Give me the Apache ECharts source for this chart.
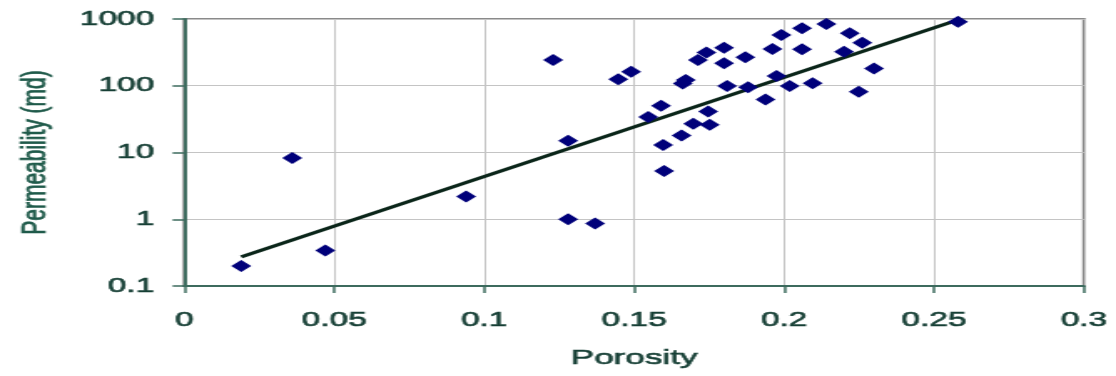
<!DOCTYPE html>
<html>
<head>
<meta charset="utf-8">
<title>Permeability vs Porosity</title>
<script src="https://cdn.jsdelivr.net/npm/echarts@6/dist/echarts.min.js"></script>
<style>
  html, body { margin: 0; padding: 0; background: #fff; overflow: hidden; }
  #wrap { width: 1116px; height: 376px; overflow: hidden; }
  /* the chart is laid out narrow and widened horizontally */
  #chart { width: 668px; height: 376px; transform: scaleX(1.6707); transform-origin: 0 0; }
</style>
</head>
<body>
<div id="wrap"><div id="chart"></div></div>
<script>
// Core samples: porosity (fraction) and permeability (md)
const porosity = [
  0.019, 0.036, 0.047, 0.094, 0.128, 0.137, 0.123, 0.128, 0.1447, 0.149,
  0.1547, 0.159, 0.1597, 0.160, 0.1662, 0.1672, 0.1658, 0.1697, 0.1747, 0.1752,
  0.1938, 0.1713, 0.1741, 0.180, 0.180, 0.1871, 0.181, 0.188, 0.1961, 0.1991,
  0.206, 0.206, 0.1975, 0.2019, 0.2095, 0.2141, 0.2219, 0.2261, 0.220, 0.230,
  0.2249, 0.258
];
const permeability = [
  0.20, 8.3, 0.34, 2.2, 1.0, 0.86, 243, 15, 125, 162,
  34, 50, 13, 5.3, 108, 122, 18, 27, 41, 26,
  62, 243, 316, 372, 217, 267, 99, 95, 355, 575,
  725, 351, 140, 99, 109, 841, 610, 442, 324, 182,
  81, 911
];

// Exponential trend line, end points over the porosity range
const trendPorosity = [0.019, 0.258];
const trendPermeability = [0.273, 972];

// Axis tick labels
const xTickLabels = ['0', '0.05', '0.1', '0.15', '0.2', '0.25', '0.3'];
const yTickLabels = ['0.1', '1', '10', '100', '1000'];

const points = porosity.map((p, i) => [p, permeability[i]]);
const trend = trendPorosity.map((p, i) => [p, trendPermeability[i]]);

const font = '"Liberation Sans", Arial, sans-serif';
const textColor = '#163f35';
const axisColor = '#3d6b5e';

// slightly heavier strokes for all chart text
const textWeight = (color) => ({ color: color, textBorderColor: color, textBorderWidth: 0.6 });

const chart = echarts.init(document.getElementById('chart'), null, { renderer: 'canvas' });
chart.setOption({
  animation: false,
  backgroundColor: '#ffffff',
  grid: {
    left: 110.3, right: 19.2, top: 19, bottom: 90,
    show: true, borderColor: '#8a8a8a', borderWidth: 2, backgroundColor: '#ffffff'
  },
  xAxis: {
    type: 'value', min: 0, max: 0.3, interval: 0.05,
    name: 'Porosity', nameLocation: 'middle', nameGap: 62,
    nameTextStyle: Object.assign({ fontFamily: font, fontSize: 21 }, textWeight(textColor)),
    axisLine: { show: true, onZero: false, lineStyle: { color: axisColor, width: 2 } },
    axisTick: { show: true, length: 7, lineStyle: { color: axisColor, width: 1.5 } },
    axisLabel: Object.assign({
      margin: 24, fontFamily: font, fontSize: 20,
      formatter: v => xTickLabels[Math.round(v / 0.05)]
    }, textWeight(textColor)),
    splitLine: { show: true, lineStyle: { color: '#c4c4c4', width: 1 } }
  },
  yAxis: {
    type: 'log', logBase: 10, min: 0.1, max: 1000,
    name: 'Permeability (md)', nameLocation: 'middle', nameGap: 79,
    nameTextStyle: Object.assign({ fontFamily: font, fontSize: 21 }, textWeight('#1f5a4a')),
    axisLine: { show: true, onZero: false, lineStyle: { color: axisColor, width: 2 } },
    axisTick: { show: true, length: 7, lineStyle: { color: axisColor, width: 1.5 } },
    axisLabel: Object.assign({
      margin: 18, fontFamily: font, fontSize: 20,
      formatter: v => yTickLabels[Math.round(Math.log10(v)) + 1]
    }, textWeight(textColor)),
    splitLine: { show: true, lineStyle: { color: '#c4c4c4', width: 1 } },
    minorTick: { show: false }
  },
  series: [
    {
      type: 'line', data: trend, z: 2,
      symbol: 'none', silent: true,
      lineStyle: { color: '#0a2519', width: 3 }
    },
    {
      type: 'scatter', data: points, z: 3,
      symbol: 'diamond', symbolSize: 12,
      itemStyle: { color: '#00007a', opacity: 1 }
    }
  ]
});
</script>
</body>
</html>
